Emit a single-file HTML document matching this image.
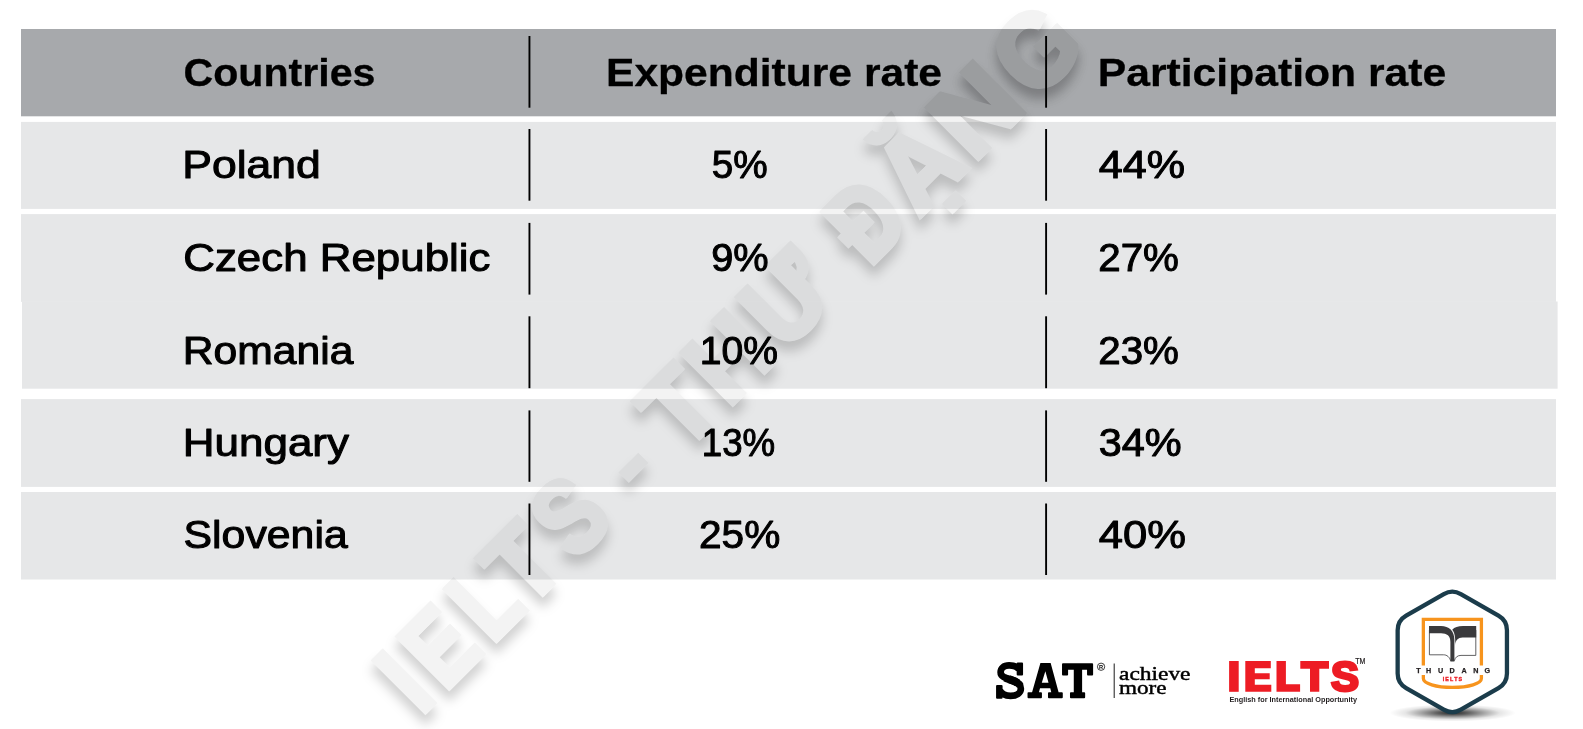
<!DOCTYPE html>
<html>
<head>
<meta charset="utf-8">
<title>Table</title>
<style>
html,body{margin:0;padding:0;background:#fff;}
body{width:1583px;height:729px;overflow:hidden;position:relative;font-family:"Liberation Sans",sans-serif;}
svg{position:absolute;left:0;top:0;display:block;will-change:opacity;}
text{font-family:"Liberation Sans",sans-serif;}
.wmt{font-family:"Liberation Sans",sans-serif;font-weight:bold;fill:#000;stroke:#000;stroke-width:4.2px;stroke-linejoin:miter;vector-effect:non-scaling-stroke;}
.sf text{font-family:"Liberation Serif",serif;}
.h{font-weight:bold;font-size:39.4px;fill:#000;stroke:#000;stroke-width:0.3px;stroke-linejoin:round;}
.b{font-weight:normal;font-size:38.6px;fill:#000;stroke:#000;stroke-width:1.0px;stroke-linejoin:round;}
</style>
</head>
<body>
<svg width="1583" height="729" viewBox="0 0 1583 729">
<defs>
<radialGradient id="shg" cx="0.5" cy="0.5" r="0.5">
<stop offset="0" stop-color="#000" stop-opacity="0.85"/>
<stop offset="0.25" stop-color="#000" stop-opacity="0.62"/>
<stop offset="0.5" stop-color="#000" stop-opacity="0.35"/>
<stop offset="0.75" stop-color="#000" stop-opacity="0.1"/>
<stop offset="1" stop-color="#000" stop-opacity="0"/>
</radialGradient>
<filter id="wmf" filterUnits="userSpaceOnUse" x="330" y="0" width="800" height="729" color-interpolation-filters="sRGB">
<feGaussianBlur in="SourceAlpha" stdDeviation="5.5" result="b"/>
<feOffset in="b" dx="0" dy="10" result="o"/>
<feComposite in="o" in2="SourceAlpha" operator="out" result="sh"/>
<feFlood flood-color="#000" flood-opacity="0.18" result="c1"/>
<feComposite in="c1" in2="sh" operator="in" result="shc"/>
<feFlood flood-color="#000" flood-opacity="0.047" result="c2"/>
<feComposite in="c2" in2="SourceAlpha" operator="in" result="tx"/>
<feMerge><feMergeNode in="shc"/><feMergeNode in="tx"/></feMerge>
</filter>
<clipPath id="hdrclip"><rect x="21" y="29" width="1535" height="87.2"/></clipPath>
</defs>
<g id="rows">
<rect x="21" y="29" width="1535" height="87.3" fill="#a7a9ac"/>
<rect x="21" y="121.9" width="1535" height="87.0" fill="#e6e7e8"/>
<rect x="21" y="214.1" width="1535" height="87.75" fill="#e6e7e8"/>
<rect x="22" y="301.5" width="1535.6" height="87.2" fill="#e6e7e8"/>
<rect x="21" y="399.1" width="1535" height="87.8" fill="#e6e7e8"/>
<rect x="21" y="492.0" width="1535" height="87.5" fill="#e6e7e8"/>
</g>
<g id="div" stroke="#000" stroke-width="1.9">
<line x1="529.45" y1="36.0" x2="529.45" y2="107.7"/>
<line x1="1046.1" y1="36.0" x2="1046.1" y2="107.7"/>
<line x1="529.45" y1="129.0" x2="529.45" y2="200.7"/>
<line x1="1046.1" y1="129.0" x2="1046.1" y2="200.7"/>
<line x1="529.45" y1="222.9" x2="529.45" y2="294.6"/>
<line x1="1046.1" y1="222.9" x2="1046.1" y2="294.6"/>
<line x1="529.45" y1="316.3" x2="529.45" y2="388.2"/>
<line x1="1046.1" y1="316.3" x2="1046.1" y2="388.2"/>
<line x1="529.45" y1="410.4" x2="529.45" y2="481.8"/>
<line x1="1046.1" y1="410.4" x2="1046.1" y2="481.8"/>
<line x1="529.45" y1="503.5" x2="529.45" y2="575.0"/>
<line x1="1046.1" y1="503.5" x2="1046.1" y2="575.0"/>
</g>
<g id="txt">
<text id="h1" class="h" x="183.51" y="85.6" textLength="191.98" lengthAdjust="spacingAndGlyphs">Countries</text>
<text id="h2" class="h" x="606.00" y="85.6" textLength="336.00" lengthAdjust="spacingAndGlyphs">Expenditure rate</text>
<text id="h3" class="h" x="1097.75" y="85.6" textLength="348.50" lengthAdjust="spacingAndGlyphs">Participation rate</text>
<text id="c1" class="b" x="182.22" y="177.55" textLength="138.55" lengthAdjust="spacingAndGlyphs">Poland</text>
<text id="c2" class="b" x="183.26" y="270.65" textLength="307.24" lengthAdjust="spacingAndGlyphs">Czech Republic</text>
<text id="c3" class="b" x="182.78" y="363.65" textLength="170.73" lengthAdjust="spacingAndGlyphs">Romania</text>
<text id="c4" class="b" x="182.78" y="455.65" textLength="166.23" lengthAdjust="spacingAndGlyphs">Hungary</text>
<text id="c5" class="b" x="183.53" y="548.25" textLength="164.23" lengthAdjust="spacingAndGlyphs">Slovenia</text>
<text id="e1" class="b" x="711.78" y="177.55" textLength="55.94" lengthAdjust="spacingAndGlyphs">5%</text>
<text id="e2" class="b" x="711.29" y="270.65" textLength="57.42" lengthAdjust="spacingAndGlyphs">9%</text>
<text id="e3" class="b" x="699.76" y="363.65" textLength="78.23" lengthAdjust="spacingAndGlyphs">10%</text>
<text id="e4" class="b" x="701.78" y="455.65" textLength="73.47" lengthAdjust="spacingAndGlyphs">13%</text>
<text id="e5" class="b" x="699.03" y="548.25" textLength="81.21" lengthAdjust="spacingAndGlyphs">25%</text>
<text id="p1" class="b" x="1098.77" y="177.55" textLength="86.21" lengthAdjust="spacingAndGlyphs">44%</text>
<text id="p2" class="b" x="1098.28" y="270.65" textLength="80.71" lengthAdjust="spacingAndGlyphs">27%</text>
<text id="p3" class="b" x="1098.28" y="363.65" textLength="80.71" lengthAdjust="spacingAndGlyphs">23%</text>
<text id="p4" class="b" x="1098.78" y="455.65" textLength="82.95" lengthAdjust="spacingAndGlyphs">34%</text>
<text id="p5" class="b" x="1098.76" y="548.25" textLength="87.21" lengthAdjust="spacingAndGlyphs">40%</text>
</g>
<g id="wm" filter="url(#wmf)">
<text transform="translate(420.90,716.28) rotate(-45) scale(0.8004,1)" font-size="105.81" class="wmt">I</text>
<text transform="translate(422.03,715.15) rotate(-45) scale(0.8004,1)" font-size="105.81" class="wmt">I</text>
<text transform="translate(444.63,692.55) rotate(-45) scale(0.8069,1)" font-size="105.81" class="wmt">E</text>
<text transform="translate(445.76,691.42) rotate(-45) scale(0.8069,1)" font-size="105.81" class="wmt">E</text>
<text transform="translate(492.22,644.96) rotate(-45) scale(0.7771,1)" font-size="105.81" class="wmt">L</text>
<text transform="translate(493.35,643.83) rotate(-45) scale(0.7771,1)" font-size="105.81" class="wmt">L</text>
<text transform="translate(526.38,610.80) rotate(-45) scale(0.9212,1)" font-size="105.81" class="wmt">T</text>
<text transform="translate(527.51,609.67) rotate(-45) scale(0.9212,1)" font-size="105.81" class="wmt">T</text>
<text transform="translate(574.40,562.78) rotate(-45) scale(0.8155,1)" font-size="105.81" class="wmt">S</text>
<text transform="translate(575.53,561.65) rotate(-45) scale(0.8155,1)" font-size="105.81" class="wmt">S</text>
<rect transform="translate(643.05,497.10) rotate(-45)" x="0" y="-34.8" width="28.0" height="14.7" fill="#000"/>
<text transform="translate(683.15,454.03) rotate(-45) scale(0.9148,1)" font-size="105.81" class="wmt">T</text>
<text transform="translate(684.28,452.90) rotate(-45) scale(0.9148,1)" font-size="105.81" class="wmt">T</text>
<text transform="translate(727.95,409.23) rotate(-45) scale(0.9517,1)" font-size="105.81" class="wmt">H</text>
<text transform="translate(729.08,408.10) rotate(-45) scale(0.9517,1)" font-size="105.81" class="wmt">H</text>
<text transform="translate(784.09,353.09) rotate(-45) scale(0.9186,1)" font-size="105.81" class="wmt">Ư</text>
<text transform="translate(785.22,351.96) rotate(-45) scale(0.9186,1)" font-size="105.81" class="wmt">Ư</text>
<text transform="translate(869.44,267.74) rotate(-45) scale(0.7993,1)" font-size="105.81" class="wmt">Đ</text>
<text transform="translate(870.57,266.61) rotate(-45) scale(0.7993,1)" font-size="105.81" class="wmt">Đ</text>
<text transform="translate(918.55,218.63) rotate(-45) scale(0.9396,1)" font-size="105.81" class="wmt">Ặ</text>
<text transform="translate(919.69,217.49) rotate(-45) scale(0.9396,1)" font-size="105.81" class="wmt">Ặ</text>
<text transform="translate(973.27,163.91) rotate(-45) scale(1.0160,1)" font-size="105.81" class="wmt">N</text>
<text transform="translate(974.40,162.78) rotate(-45) scale(1.0160,1)" font-size="105.81" class="wmt">N</text>
<text transform="translate(1035.07,102.11) rotate(-45) scale(0.8991,1)" font-size="105.81" class="wmt">G</text>
<text transform="translate(1036.20,100.98) rotate(-45) scale(0.8991,1)" font-size="105.81" class="wmt">G</text>
</g>
<g clip-path="url(#hdrclip)" opacity="0.5"><g filter="url(#wmf)">
<text transform="translate(420.90,716.28) rotate(-45) scale(0.8004,1)" font-size="105.81" class="wmt">I</text>
<text transform="translate(422.03,715.15) rotate(-45) scale(0.8004,1)" font-size="105.81" class="wmt">I</text>
<text transform="translate(444.63,692.55) rotate(-45) scale(0.8069,1)" font-size="105.81" class="wmt">E</text>
<text transform="translate(445.76,691.42) rotate(-45) scale(0.8069,1)" font-size="105.81" class="wmt">E</text>
<text transform="translate(492.22,644.96) rotate(-45) scale(0.7771,1)" font-size="105.81" class="wmt">L</text>
<text transform="translate(493.35,643.83) rotate(-45) scale(0.7771,1)" font-size="105.81" class="wmt">L</text>
<text transform="translate(526.38,610.80) rotate(-45) scale(0.9212,1)" font-size="105.81" class="wmt">T</text>
<text transform="translate(527.51,609.67) rotate(-45) scale(0.9212,1)" font-size="105.81" class="wmt">T</text>
<text transform="translate(574.40,562.78) rotate(-45) scale(0.8155,1)" font-size="105.81" class="wmt">S</text>
<text transform="translate(575.53,561.65) rotate(-45) scale(0.8155,1)" font-size="105.81" class="wmt">S</text>
<rect transform="translate(643.05,497.10) rotate(-45)" x="0" y="-34.8" width="28.0" height="14.7" fill="#000"/>
<text transform="translate(683.15,454.03) rotate(-45) scale(0.9148,1)" font-size="105.81" class="wmt">T</text>
<text transform="translate(684.28,452.90) rotate(-45) scale(0.9148,1)" font-size="105.81" class="wmt">T</text>
<text transform="translate(727.95,409.23) rotate(-45) scale(0.9517,1)" font-size="105.81" class="wmt">H</text>
<text transform="translate(729.08,408.10) rotate(-45) scale(0.9517,1)" font-size="105.81" class="wmt">H</text>
<text transform="translate(784.09,353.09) rotate(-45) scale(0.9186,1)" font-size="105.81" class="wmt">Ư</text>
<text transform="translate(785.22,351.96) rotate(-45) scale(0.9186,1)" font-size="105.81" class="wmt">Ư</text>
<text transform="translate(869.44,267.74) rotate(-45) scale(0.7993,1)" font-size="105.81" class="wmt">Đ</text>
<text transform="translate(870.57,266.61) rotate(-45) scale(0.7993,1)" font-size="105.81" class="wmt">Đ</text>
<text transform="translate(918.55,218.63) rotate(-45) scale(0.9396,1)" font-size="105.81" class="wmt">Ặ</text>
<text transform="translate(919.69,217.49) rotate(-45) scale(0.9396,1)" font-size="105.81" class="wmt">Ặ</text>
<text transform="translate(973.27,163.91) rotate(-45) scale(1.0160,1)" font-size="105.81" class="wmt">N</text>
<text transform="translate(974.40,162.78) rotate(-45) scale(1.0160,1)" font-size="105.81" class="wmt">N</text>
<text transform="translate(1035.07,102.11) rotate(-45) scale(0.8991,1)" font-size="105.81" class="wmt">G</text>
<text transform="translate(1036.20,100.98) rotate(-45) scale(0.8991,1)" font-size="105.81" class="wmt">G</text>
</g></g>
<g id="logos">
<g id="sat" transform="translate(990,655) scale(0.075815)" fill="#000">
<path d="M 385,200 C 368,150 315,137 252,137 C 178,137 140,178 140,228 C 140,288 205,306 275,328 C 352,352 407,382 407,445 C 407,502 350,539 272,539 C 202,539 150,512 128,465" fill="none" stroke="#000" stroke-width="88" stroke-linecap="butt"/>
<path d="M 385,200 C 368,150 315,137 252,137 C 178,137 140,178 140,228 C 140,288 205,306 275,328 C 352,352 407,382 407,445 C 407,502 350,539 272,539 C 202,539 150,512 128,465" pathLength="100" fill="none" stroke="#000" stroke-width="98" stroke-dasharray="0 40 22 38"/>
<path d="M 385,200 C 368,150 315,137 252,137 C 178,137 140,178 140,228 C 140,288 205,306 275,328 C 352,352 407,382 407,445 C 407,502 350,539 272,539 C 202,539 150,512 128,465" pathLength="100" fill="none" stroke="#000" stroke-width="106" stroke-dasharray="0 45 12 43"/>
<rect x="352" y="100" width="84" height="172" rx="14"/>
<rect x="80" y="395" width="86" height="182" rx="14"/>
<path d="M665,105 L800,105 L905,490 L948,490 Q960,490 960,502 L960,558 Q960,570 948,570 L777,570 Q765,570 765,558 L765,502 Q765,490 777,490 L808,490 L795,440 L660,440 L645,490 L673,490 Q685,490 685,502 L685,558 Q685,570 673,570 L507,570 Q495,570 495,558 L495,502 Q495,490 507,490 L555,490 Z M730,215 L683,365 L772,365 Z" fill-rule="evenodd"/>
<path d="M962,110 L1348,110 Q1360,110 1360,122 L1360,258 Q1360,270 1348,270 L1292,270 Q1280,270 1280,258 L1280,195 L1215,195 L1215,490 L1243,490 Q1255,490 1255,502 L1255,558 Q1255,570 1243,570 L1067,570 Q1055,570 1055,558 L1055,502 Q1055,490 1067,490 L1105,490 L1105,195 L1030,195 L1030,258 Q1030,270 1018,270 L962,270 Q950,270 950,258 L950,122 Q950,110 962,110 Z"/>
<circle cx="1465" cy="155" r="48" fill="none" stroke="#000" stroke-width="10"/>
<text x="1466" y="182" font-size="74" font-weight="bold" text-anchor="middle" style="font-family:'Liberation Sans',sans-serif">R</text>
</g>
<line x1="1114.2" y1="663.5" x2="1114.2" y2="698" stroke="#000" stroke-width="0.9"/>
<g class="sf" font-size="19.6" fill="#000" stroke="#000" stroke-width="0.45">
<text id="ach" x="1119" y="680.2" textLength="71.5" lengthAdjust="spacingAndGlyphs">achieve</text>
<text id="mor" x="1119" y="694.3" textLength="47.5" lengthAdjust="spacingAndGlyphs">more</text>
</g>
<g id="ielts" fill="#ed1c24">
<rect x="1229.1" y="661" width="9.6" height="30.8"/>
<path d="M1245.3,661 H1270.8 V668.3 H1254.8 V673.3 H1269.7 V679.3 H1254.8 V684.7 H1271.3 V691.8 H1245.3 Z"/>
<path d="M1276.5,661 H1285.9 V684.2 H1300.1 V691.8 H1276.5 Z"/>
<path d="M1300.3,661 H1329 V668.7 H1319.3 V691.8 H1310 V668.7 H1300.3 Z"/>
<text id="iS" x="1330.9" y="690.9" font-size="41.6" font-weight="bold" stroke="#ed1c24" stroke-width="2.9" textLength="28" lengthAdjust="spacingAndGlyphs" style="font-family:'Liberation Sans',sans-serif">S</text>
</g>
<text id="tm" x="1355.2" y="663.8" font-size="8.6" font-weight="normal" fill="#231f20" stroke="#231f20" stroke-width="0.2" textLength="10.2" lengthAdjust="spacingAndGlyphs" style="font-family:'Liberation Sans',sans-serif">TM</text>
<text id="sub" x="1229.4" y="701.5" font-size="8.0" font-weight="bold" fill="#231f20" textLength="127.6" lengthAdjust="spacingAndGlyphs" style="font-family:'Liberation Sans',sans-serif">English for International Opportunity</text>
<ellipse cx="1452.6" cy="712.9" rx="63" ry="8.6" fill="url(#shg)"/>
<path d="M1443.80,593.20 A17.00,17.00 0 0 1 1460.80,593.20 L1498.45,614.94 A17.00,17.00 0 0 1 1506.95,629.66 L1506.95,673.14 A17.00,17.00 0 0 1 1498.45,687.86 L1460.80,709.60 A17.00,17.00 0 0 1 1443.80,709.60 L1406.15,687.86 A17.00,17.00 0 0 1 1397.65,673.14 L1397.65,629.66 A17.00,17.00 0 0 1 1406.15,614.94 Z" fill="#fff" stroke="#1b3c4b" stroke-width="4.3" stroke-linejoin="round" transform="translate(0,713.7) scale(1,0.9925) translate(0,-713.7)"/>
<path d="M1423.35,665.6 V619.4 H1481.4 V665.6 M1423.35,675.1 V678.5 C1423.35,683.5 1436,687.4 1452.4,687.4 C1468.8,687.4 1481.4,683.5 1481.4,678.5 V675.1" fill="none" stroke="#f7941d" stroke-width="3.3"/>
<g id="book">
<path d="M1429.4,630 V654.8 H1443.5 C1447,654.8 1449.5,657 1450.6,660.8" fill="none" stroke="#3a3a3c" stroke-width="0.8"/>
<path d="M1475.8,630 V655.4 H1461 C1457.5,655.4 1455.3,657.2 1454.3,660.8" fill="none" stroke="#3a3a3c" stroke-width="0.8"/>
<path d="M1429,626.1 H1441 C1449,626.1 1454.4,631 1454.4,640 V661.5 H1450.4 V642 C1450.4,636 1447,633.3 1441,633.3 H1429 Z" fill="#3a3a3c"/>
<path d="M1476.2,626.1 V637.6 H1462.5 C1458,637.6 1455.6,640.5 1455.3,645 C1455.5,637 1454.5,632 1452.2,629.8 C1454.5,627.3 1458,626.1 1463,626.1 Z" fill="#3a3a3c"/>
</g>
<g font-size="7.2" font-weight="bold" fill="#231f20" stroke="#231f20" stroke-width="0.25" text-anchor="middle" style="font-family:'Liberation Sans',sans-serif">
<text x="1418.4" y="673.2">T</text><text x="1428.6" y="673.2">H</text><text x="1440.5" y="673.2">U</text><text x="1452.1" y="673.2">D</text><text x="1464.0" y="673.2">A</text><text x="1475.8" y="673.2">N</text><text x="1487.4" y="673.2">G</text>
</g>
<text x="1452.4" y="680.8" font-size="5.3" font-weight="bold" fill="#ed1c24" stroke="#ed1c24" stroke-width="0.35" text-anchor="middle" textLength="19.5" lengthAdjust="spacing" style="font-family:'Liberation Sans',sans-serif">IELTS</text>
</g>
</svg>
</body>
</html>
